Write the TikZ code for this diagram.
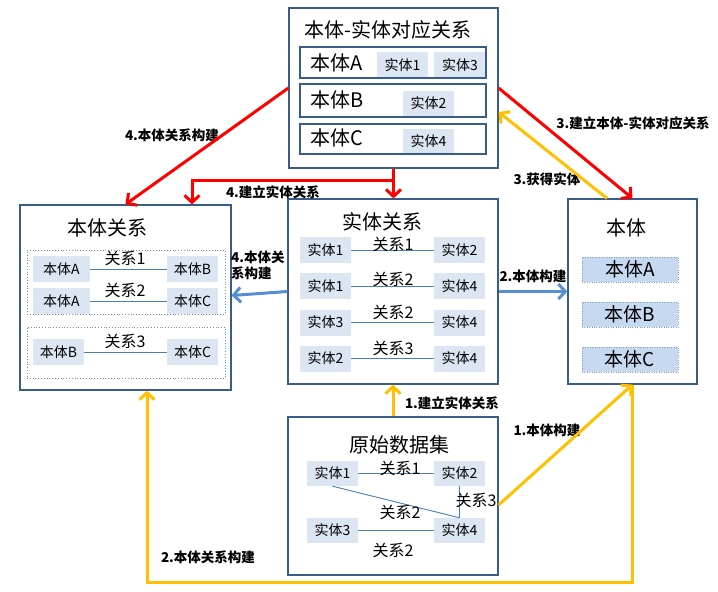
\documentclass[tikz,border=0pt]{standalone}
\usepackage{fontspec}
\setmainfont{Noto Sans CJK SC}
\usetikzlibrary{arrows.meta,calc}
\definecolor{bd}{RGB}{56,93,138}
\definecolor{ef}{RGB}{220,230,242}
\definecolor{ef2}{RGB}{198,217,241}
\definecolor{ln}{RGB}{74,126,187}
\definecolor{ab}{RGB}{85,142,213}
\definecolor{ay}{RGB}{255,192,0}
\definecolor{ar}{RGB}{255,0,0}
\begin{document}
\begin{tikzpicture}[x=1pt,y=-1pt,
  bigbox/.style={draw=bd,line width=1.2pt,inner sep=0pt},
  rowbox/.style={draw=bd,line width=1.2pt,inner sep=0pt},
  dotbox/.style={draw=bd!70,dotted,line width=0.8pt,inner sep=0pt},
  ent/.style={fill=ef,inner sep=0pt,minimum height=26pt,font=\fontsize{14}{14}\selectfont},
  ent2/.style={fill=ef2,draw=bd!60,dotted,inner sep=0pt,minimum width=96pt,minimum height=25pt,font=\fontsize{19}{19}\selectfont},
  title/.style={inner sep=0pt,font=\fontsize{20}{20}\selectfont},
  rowtxt/.style={inner sep=0pt,anchor=west,font=\fontsize{20}{20}\selectfont},
  rel/.style={inner sep=0pt,font=\fontsize{16}{16}\selectfont},
  lbl/.style={inner sep=0pt,font=\bfseries\fontsize{13.5}{16}\selectfont},
  link/.style={draw=ln,line width=0.9pt},
  arrR/.style={draw=ar,line width=3pt,-{Straight Barb[length=7pt,width=15pt]}},
  arrY/.style={draw=ay,line width=3pt,-{Straight Barb[length=7pt,width=15pt]}},
  arrB/.style={draw=ab,line width=3pt,-{Straight Barb[length=7pt,width=15pt]}},
]
\useasboundingbox (0,0) rectangle (718,592);

% ---- top box
\node[bigbox,minimum width=209pt,minimum height=160pt] (top) at (393.5,88) {};
\node[title] (tt) at (388,30) {本体-实体对应关系};
\node[ent,minimum width=51pt] (te1) at (402.5,65) {实体1};
\node[ent,minimum width=52pt] (te3) at (460,65) {实体3};
\node[ent,minimum width=51pt,minimum height=25pt] (te2) at (428.5,103.5) {实体2};
\node[ent,minimum width=51pt,minimum height=25pt] (te4) at (428.5,141.5) {实体4};
\node[rowbox,minimum width=186pt,minimum height=31pt] (ra) at (393,62.5) {};
\node[rowbox,minimum width=186pt,minimum height=33pt] (rbb) at (393,100.5) {};
\node[rowbox,minimum width=186pt,minimum height=30pt] (rc) at (393,139) {};
\node[rowtxt] (ta) at (310,63) {本体A};
\node[rowtxt] (tb) at (310,100) {本体B};
\node[rowtxt] (tc) at (310,138) {本体C};

% ---- left box
\node[bigbox,minimum width=211pt,minimum height=185pt] (lb) at (125.5,297.5) {};
\node[title] (lbt) at (107.5,228) {本体关系};
\node[dotbox,minimum width=198pt,minimum height=64pt] (d1) at (126,282) {};
\node[dotbox,minimum width=198pt,minimum height=51pt] (d2) at (126,352.5) {};
\node[ent,minimum width=57pt] (la1) at (61.5,269) {本体A};
\node[ent,minimum width=51pt] (lb1) at (192.5,269) {本体B};
\node[ent,minimum width=57pt] (la2) at (61.5,301) {本体A};
\node[ent,minimum width=51pt] (lc2) at (192.5,301) {本体C};
\node[ent,minimum width=51pt] (lb3) at (58.5,352) {本体B};
\node[ent,minimum width=51pt] (lc3) at (192.5,352) {本体C};
\draw[link] (la1) -- (lb1);
\draw[link] (la2) -- (lc2);
\draw[link] (lb3) -- (lc3);
\node[rel] (lr1) at (125,258) {关系1};
\node[rel] (lr2) at (125,290) {关系2};
\node[rel] (lr3) at (125,341) {关系3};

% ---- middle box
\node[bigbox,minimum width=210pt,minimum height=185pt] (mid) at (393,291.5) {};
\node[title] (mt) at (382,222) {实体关系};
\node[ent,minimum width=51pt] (m11) at (325.5,250) {实体1};
\node[ent,minimum width=51pt] (m12) at (459.5,250) {实体2};
\node[ent,minimum width=51pt] (m21) at (325.5,286) {实体1};
\node[ent,minimum width=51pt] (m22) at (459.5,286) {实体4};
\node[ent,minimum width=51pt] (m31) at (325.5,322.5) {实体3};
\node[ent,minimum width=51pt] (m32) at (459.5,322.5) {实体4};
\node[ent,minimum width=51pt] (m41) at (325.5,358.5) {实体2};
\node[ent,minimum width=51pt] (m42) at (459.5,358.5) {实体4};
\draw[link] (m11) -- (m12);
\draw[link] (m21) -- (m22);
\draw[link] (m31) -- (m32);
\draw[link] (m41) -- (m42);
\node[rel] (mr1) at (393,244) {关系1};
\node[rel] (mr2) at (393,279) {关系2};
\node[rel] (mr3) at (393,312) {关系2};
\node[rel] (mr4) at (393,348) {关系3};

% ---- bottom box
\node[bigbox,minimum width=210pt,minimum height=158pt] (bot) at (393,496) {};
\node[title] (bt) at (399.5,445) {原始数据集};
\node[ent,minimum width=51pt,minimum height=25pt] (b1) at (332.5,473.5) {实体1};
\node[ent,minimum width=51pt,minimum height=25pt] (b2) at (459.5,473.5) {实体2};
\node[ent,minimum width=51pt,minimum height=25pt] (b3) at (332.5,530.5) {实体3};
\node[ent,minimum width=51pt,minimum height=25pt] (b4) at (459.5,530.5) {实体4};
\draw[link] (b1) -- (b2);
\draw[link] (b3) -- (b4);
\draw[link] (b1.south) -- (b4.north);
\draw[link] (b2.south) -- (b4.north);
\node[rel] (br1) at (400,468) {关系1};
\node[rel] (br3) at (476,500) {关系3};
\node[rel] (br2) at (400,512) {关系2};
\node[rel] (br4) at (393,550) {关系2};

% ---- right box
\node[bigbox,minimum width=129pt,minimum height=185pt] (rb) at (632.5,291.5) {};
\node[title] (rt) at (626,228) {本体};
\node[ent2] (r1) at (630,269.5) {本体A};
\node[ent2] (r2) at (630,314.5) {本体B};
\node[ent2] (r3) at (630,359.5) {本体C};

% ---- labels
\node[lbl] (l1) at (172,135) {4.本体关系构建};
\node[lbl] (l2) at (273,192) {4.建立实体关系};
\node[lbl] (l3) at (633,123) {3.建立本体-实体对应关系};
\node[lbl] (l4) at (547,179) {3.获得实体};
\node[lbl,align=left,anchor=west] (l5) at (231,265) {4.本体关\\系构建};
\node[lbl] (l6) at (533,276) {2.本体构建};
\node[lbl] (l7) at (452,403) {1.建立实体关系};
\node[lbl] (l8) at (547,430) {1.本体构建};
\node[lbl] (l9) at (208,557) {2.本体关系构建};

% ---- arrows
\coordinate (br) at ($(top.south)+(0,12)$);
\draw[arrR] (top.west) -- (lb.north);
\draw[arrR] (top.south) -- (top.south |- mid.north);
\draw[arrR] (br) -| ([xshift=66.5pt]lb.north);
\draw[arrR] (top.east) -- (rb.north);
\draw[arrY] ([xshift=-25.5pt]rb.north) -- ([yshift=-24pt]top.east);
\draw[arrB] (mid.west) -- ([yshift=2pt]lb.east);
\draw[arrB] (mid.east) -- (rb.west);
\draw[arrY] (bot.north) -- (mid.south);
\draw[arrY] ([yshift=-9pt]bot.east) -- (rb.south);
\draw[arrY] (rb.south) -- ++(0,198) -| ([xshift=21.5pt]lb.south);
\end{tikzpicture}
\end{document}
